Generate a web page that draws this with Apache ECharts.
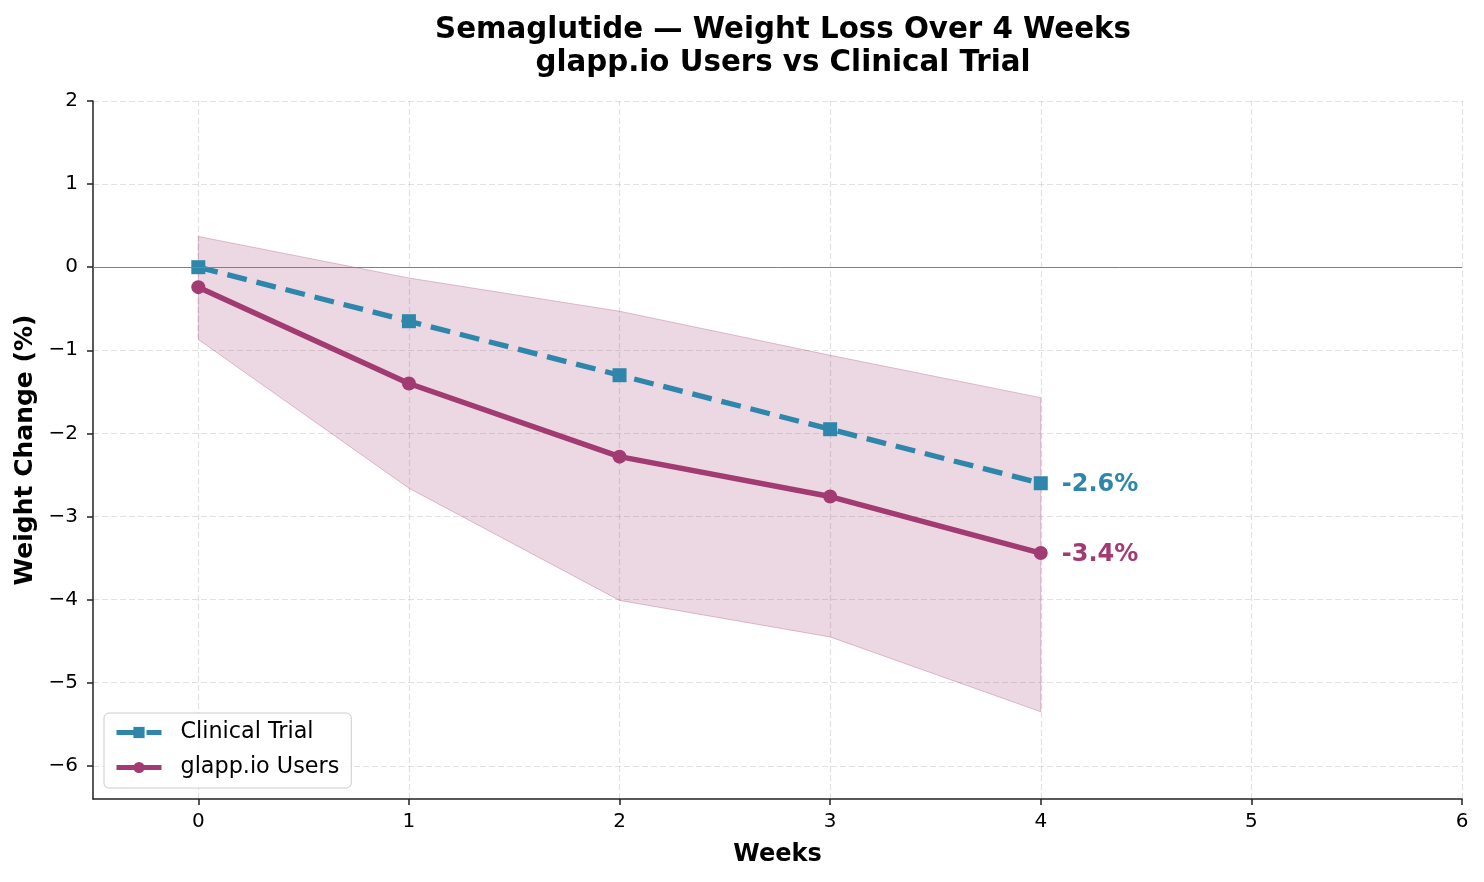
<!DOCTYPE html>
<html>
<head>
<meta charset="utf-8">
<script src="https://cdn.jsdelivr.net/npm/echarts@6/dist/echarts.min.js"></script>
<style>html,body{margin:0;padding:0;background:#fff}#main{width:1484px;height:882px}</style>
</head>
<body>
<div id="main"></div>
<script>
const weeks = [0, 1, 2, 3, 4];
const clinicalTrial = [0, -0.65, -1.3, -1.95, -2.6];
const glappUsers = [-0.24, -1.40, -2.28, -2.76, -3.44];
const bandUpper = [0.37, -0.13, -0.53, -1.06, -1.57];
const bandLower = [-0.87, -2.66, -4.01, -4.45, -5.35];
const xTicks = [0, 1, 2, 3, 4, 5, 6];
const yTicks = [-6, -5, -4, -3, -2, -1, 0, 1, 2];

const TEAL = '#2E86AB';
const PLUM = '#A23B72';
const FONT = 'DejaVu Sans';

const chart = echarts.init(document.getElementById('main'), null, {renderer: 'canvas'});
const fmtMinus = v => String(v).replace('-', '\u2212');

const gridLines = yTicks.map(v => ({yAxis: v})).concat(xTicks.map(v => ({xAxis: v})));

chart.setOption({
  animation: false,
  backgroundColor: '#fff',
  textStyle: {fontFamily: FONT},
  title: {
    text: 'Semaglutide \u2014 Weight Loss Over 4 Weeks\nglapp.io Users vs Clinical Trial',
    left: 778, top: 9, textAlign: 'center',
    textStyle: {fontFamily: FONT, fontSize: 29.3, fontWeight: 'bold', color: '#000', lineHeight: 33}
  },
  grid: {left: 93, right: 22, top: 101, bottom: 83, containLabel: false},
  legend: {
    orient: 'vertical', left: 104, top: 713,
    padding: [7, 12, 8, 10], itemGap: 10, itemWidth: 45, itemHeight: 14,
    backgroundColor: 'rgba(255,255,255,0.85)', borderColor: '#cccccc', borderWidth: 1, borderRadius: 5,
    textStyle: {fontFamily: FONT, fontSize: 22.3, color: '#000', lineHeight: 25, padding: [0, 0, 0, 14]},
    lineStyle: {width: 5},
    data: ['Clinical Trial', 'glapp.io Users']
  },
  xAxis: {
    type: 'value', min: -0.5, max: 6,
    name: 'Weeks', nameLocation: 'middle', nameGap: 44,
    nameTextStyle: {fontFamily: FONT, fontSize: 24, fontWeight: 'bold', color: '#000'},
    axisLine: {onZero: false, lineStyle: {color: '#222', width: 1.5}},
    axisTick: {show: true, length: 6, customValues: xTicks, lineStyle: {color: '#222', width: 1.5}},
    axisLabel: {customValues: xTicks, fontFamily: FONT, fontSize: 20, color: '#000', margin: 13, formatter: fmtMinus},
    splitLine: {show: false}
  },
  yAxis: {
    type: 'value', min: -6.4, max: 2,
    name: 'Weight Change (%)', nameLocation: 'middle', nameGap: 54,
    nameTextStyle: {fontFamily: FONT, fontSize: 25, fontWeight: 'bold', color: '#000'},
    axisLine: {show: true, onZero: false, lineStyle: {color: '#222', width: 1.5}},
    axisTick: {show: true, length: 6, customValues: yTicks, lineStyle: {color: '#222', width: 1.5}},
    axisLabel: {customValues: yTicks, fontFamily: FONT, fontSize: 20, color: '#000', margin: 15, formatter: fmtMinus},
    splitLine: {show: false}
  },
  series: [
    {
      name: 'band', type: 'custom', silent: true, z: 1,
      data: weeks.map((w, i) => [w, bandLower[i], bandUpper[i]]),
      encode: {x: 0, y: [1, 2]},
      renderItem: function (params, api) {
        if (params.dataIndex !== 0) return null;
        const pts = [];
        for (let i = 0; i < weeks.length; i++) pts.push(api.coord([weeks[i], bandUpper[i]]));
        for (let i = weeks.length - 1; i >= 0; i--) pts.push(api.coord([weeks[i], bandLower[i]]));
        return {type: 'polygon', shape: {points: pts},
          style: {fill: 'rgba(162,59,114,0.2)', stroke: 'rgba(162,59,114,0.3)', lineWidth: 1}};
      },
      markLine: {
        silent: true, symbol: 'none', label: {show: false}, z: 0,
        lineStyle: {color: 'rgba(200,200,200,0.55)', type: [6, 3], width: 1.2},
        data: gridLines
      }
    },
    {
      name: 'zero', type: 'line', data: [], silent: true,
      markLine: {
        silent: true, symbol: 'none', label: {show: false},
        lineStyle: {color: '#808080', type: 'solid', width: 1},
        data: [{yAxis: 0}]
      }
    },
    {
      name: 'Clinical Trial', type: 'line', z: 4,
      data: weeks.map((w, i) => [w, clinicalTrial[i]]),
      symbol: 'rect', symbolSize: 14,
      itemStyle: {color: TEAL},
      lineStyle: {color: TEAL, width: 5.3, type: [20, 10]},
      endLabel: {show: true, distance: 21, offset: [0, 2], formatter: p => p.value[1].toFixed(1) + '%',
        color: TEAL, fontFamily: FONT, fontWeight: 'bold', fontSize: 24}
    },
    {
      name: 'glapp.io Users', type: 'line', z: 5,
      data: weeks.map((w, i) => [w, glappUsers[i]]),
      symbol: 'circle', symbolSize: 14,
      itemStyle: {color: PLUM},
      lineStyle: {color: PLUM, width: 5.5},
      endLabel: {show: true, distance: 21, offset: [0, 2], formatter: p => p.value[1].toFixed(1) + '%',
        color: PLUM, fontFamily: FONT, fontWeight: 'bold', fontSize: 24}
    }
  ]
});
</script>
</body>
</html>
